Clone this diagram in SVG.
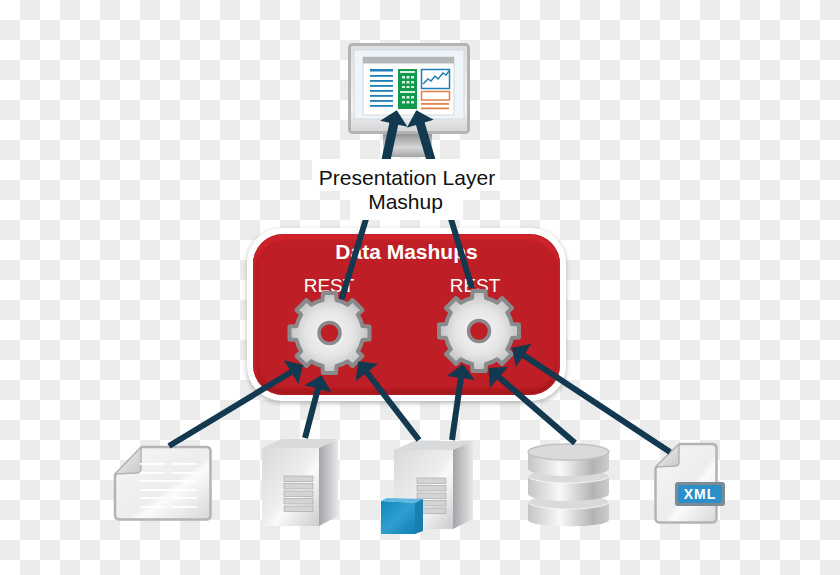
<svg xmlns="http://www.w3.org/2000/svg" xmlns:xlink="http://www.w3.org/1999/xlink" width="840" height="575" viewBox="0 0 840 575">
<style>
.conn{fill:none;stroke:#12394f;stroke-width:6;marker-end:url(#head)}
.plain{fill:none;stroke:#12394f;stroke-width:6}
.thick{stroke-width:9}
.sans{font-family:"Liberation Sans",Arial,sans-serif}
.wt{fill:#fff;text-anchor:middle}
.bk{fill:#111;text-anchor:middle;font-size:21px}
.docline{fill:#fff}
.vent{fill:#d3d4d6;stroke:#a0a1a3;stroke-width:.6}
.blue{fill:#1d7fb5}
.orange{fill:#e5804a}
.gearbody{fill:url(#gearFill);stroke:#8a8a8c;stroke-width:4;stroke-linejoin:round}
</style>
<defs>
<pattern id="checker" width="40" height="40" patternUnits="userSpaceOnUse">
<rect width="40" height="40" fill="#fff"/>
<rect x="20" y="0" width="20" height="20" fill="#ececec"/>
<rect x="0" y="20" width="20" height="20" fill="#ececec"/>
</pattern>
<marker id="head" markerUnits="userSpaceOnUse" markerWidth="16" markerHeight="30" refX="8" refY="14" orient="auto" overflow="visible">
<path d="M0 0L14 14L0 28Z" fill="#12394f"/>
</marker>
<filter id="soft" x="-10%" y="-10%" width="120%" height="120%"><feGaussianBlur stdDeviation="2.500"/></filter>
<filter id="soft2" x="-10%" y="-10%" width="120%" height="120%"><feGaussianBlur stdDeviation="2"/></filter>
<clipPath id="panelClip"><rect x="253" y="234" width="307" height="161" rx="30"/></clipPath>
<radialGradient id="gearFill" cx=".5" cy=".5" r=".55">
<stop offset="0" stop-color="#f8f8f8"/><stop offset=".55" stop-color="#e4e4e5"/><stop offset="1" stop-color="#b8b9bb"/>
</radialGradient>
<linearGradient id="sheet" x1="0" y1="0" x2="1" y2="1">
<stop offset="0" stop-color="#f6f6f7"/><stop offset=".55" stop-color="#eceded"/><stop offset=".62" stop-color="#fbfbfb"/><stop offset="1" stop-color="#d6d7d9"/>
</linearGradient>
<linearGradient id="fold" x1="0" y1="0" x2="1" y2="1">
<stop offset="0" stop-color="#f0f0f1"/><stop offset="1" stop-color="#c9cacc"/>
</linearGradient>
<linearGradient id="front" x1="0" y1="0" x2="1" y2="1">
<stop offset="0" stop-color="#d8d9db"/><stop offset=".5" stop-color="#eeeeef"/><stop offset=".6" stop-color="#fafafa"/><stop offset="1" stop-color="#cbccce"/>
</linearGradient>
<linearGradient id="side" x1="0" y1="0" x2="1" y2="0">
<stop offset="0" stop-color="#a3a4a7"/><stop offset="1" stop-color="#e6e7e8"/>
</linearGradient>
<linearGradient id="cyl" x1="0" y1="0" x2="1" y2="0">
<stop offset="0" stop-color="#c4c5c7"/><stop offset=".4" stop-color="#f8f8f8"/><stop offset=".8" stop-color="#b2b3b5"/><stop offset="1" stop-color="#cbccce"/>
</linearGradient>
<linearGradient id="cube" x1="0" y1="0" x2="1" y2="1">
<stop offset="0" stop-color="#0f86bd"/><stop offset=".5" stop-color="#2f9fd0"/><stop offset="1" stop-color="#0f7fb5"/>
</linearGradient>
<linearGradient id="stand" x1="0" y1="0" x2="0" y2="1">
<stop offset="0" stop-color="#8f9092"/><stop offset=".6" stop-color="#d5d6d7"/><stop offset="1" stop-color="#a3a4a6"/>
</linearGradient>
<linearGradient id="bezel" x1="0" y1="0" x2="0" y2="1">
<stop offset="0" stop-color="#dedfe0"/><stop offset=".75" stop-color="#f4f4f5"/><stop offset="1" stop-color="#d2d3d5"/>
</linearGradient>
<path id="gearShape" d="M33 -7L40 -6.500L40 6.500L33 7A34 34 0 0 1 28.300 18.300L33 23L23 33L18.300 28.300A34 34 0 0 1 7 33L6.500 40L-6.500 40L-7 33A34 34 0 0 1 -18.300 28.300L-23 33L-33 23L-28.300 18.300A34 34 0 0 1 -33 7L-40 6.500L-40 -6.500L-33 -7A34 34 0 0 1 -28.300 -18.300L-33 -23L-23 -33L-18.300 -28.300A34 34 0 0 1 -7 -33L-6.500 -40L6.500 -40L7 -33A34 34 0 0 1 18.300 -28.300L23 -33L33 -23L28.300 -18.300A34 34 0 0 1 33 -7Z"/>
<g id="vents">
<rect x="0" y="0" width="29" height="5.500" class="vent"/>
<rect x="0" y="7.500" width="29" height="5.500" class="vent"/>
<rect x="0" y="15" width="29" height="5.500" class="vent"/>
<rect x="0" y="22.500" width="29" height="5.500" class="vent"/>
<rect x="0" y="30" width="29" height="5.500" class="vent"/>
</g>
</defs>

<rect id="background" width="840" height="575" fill="url(#checker)"/>

<g id="monitor">
<rect x="383" y="133" width="49" height="24" fill="url(#stand)"/>
<rect x="349.500" y="44.500" width="119" height="88" rx="3" fill="url(#bezel)" stroke="#b3b4b6" stroke-width="3"/>
<rect x="354" y="50" width="110" height="69" fill="#edf4fa" stroke="#d6d7d9" stroke-width="1"/>
<rect x="363" y="57" width="91" height="58" fill="#fff" stroke="#d6d7d9" stroke-width="1"/>
<rect x="363" y="57" width="91" height="6.500" fill="#b5b6b8"/>
<rect class="blue" x="370" y="69" width="23" height="2.500"/>
<rect class="blue" x="370" y="75" width="23" height="1.800"/>
<rect class="blue" x="370" y="80" width="23" height="1.800"/>
<rect class="blue" x="370" y="85" width="23" height="1.800"/>
<rect class="blue" x="370" y="90" width="23" height="1.800"/>
<rect class="blue" x="370" y="95" width="23" height="1.800"/>
<rect class="blue" x="370" y="100" width="23" height="1.800"/>
<rect class="blue" x="370" y="105" width="23" height="1.800"/>
<rect x="398" y="69" width="19" height="40" fill="#119a4b"/>
<g fill="#d6efe0">
<rect x="400" y="71" width="15" height="2"/>
<rect x="400" y="91" width="15" height="2"/>
<rect x="402" y="76" width="3" height="2.500"/><rect x="406.500" y="76" width="3" height="2.500"/><rect x="411" y="76" width="3" height="2.500"/>
<rect x="402" y="81" width="3" height="2.500"/><rect x="406.500" y="81" width="3" height="2.500"/><rect x="411" y="81" width="3" height="2.500"/>
<rect x="402" y="86" width="3" height="2"/><rect x="406.500" y="86" width="3" height="2"/><rect x="411" y="86" width="3" height="2"/>
<rect x="402" y="96" width="3" height="2.500"/><rect x="406.500" y="96" width="3" height="2.500"/><rect x="411" y="96" width="3" height="2.500"/>
<rect x="402" y="101" width="3" height="2.500"/><rect x="406.500" y="101" width="3" height="2.500"/><rect x="411" y="101" width="3" height="2.500"/>
</g>
<rect x="421.500" y="69.500" width="28" height="19" fill="#fff" stroke="#1d7fb5" stroke-width="1.500"/>
<polyline points="423,84 428,79 431,81 435,76 438,79 443,73 446,75 449,71" fill="none" stroke="#1d7fb5" stroke-width="1.500"/>
<rect x="421.500" y="91.500" width="28" height="8.500" fill="#fff" stroke="#e5804a" stroke-width="1.500"/>
<rect class="orange" x="421" y="103" width="28" height="1.800"/>
<rect class="orange" x="421" y="107.500" width="28" height="1.800"/>
</g>

<g id="data-mashups">
<rect x="247" y="230" width="319" height="173" rx="34" fill="#999" opacity=".7" filter="url(#soft)"/>
<rect x="250" y="231" width="313" height="167" rx="32" fill="#fff" stroke="#fff" stroke-width="6"/>
<rect x="253" y="234" width="307" height="161" rx="30" fill="#be1e25"/>
<g clip-path="url(#panelClip)">
<rect x="253" y="230" width="307" height="163" rx="30" fill="none" stroke="#8f1217" stroke-width="4" filter="url(#soft2)"/>
<rect x="253" y="237" width="307" height="161" rx="30" fill="none" stroke="#d9282f" stroke-width="4" filter="url(#soft2)"/>
</g>
<text class="sans wt" x="406.500" y="259" font-size="21" font-weight="700">Data Mashups</text>
<text class="sans wt" x="329" y="292" font-size="19">REST</text>
<text class="sans wt" x="475" y="292" font-size="19">REST</text>
</g>

<g id="gear-left" transform="translate(329.500 333)">
<use xlink:href="#gearShape" href="#gearShape" class="gearbody"/>
<circle r="10.500" fill="#be1e25" stroke="#8a8a8c" stroke-width="3.500"/>
</g>
<g id="gear-right" transform="translate(479 331)">
<use xlink:href="#gearShape" href="#gearShape" class="gearbody"/>
<circle r="10.500" fill="#be1e25" stroke="#8a8a8c" stroke-width="3.500"/>
</g>

<g id="document">
<path d="M142 447H206Q210.500 447 210.500 451V515Q210.500 519.500 206 519.500H120Q115 519.500 115 515V475Z" fill="url(#sheet)" stroke="#b3b4b6" stroke-width="2.500" stroke-linejoin="round"/>
<path d="M115 474L141 447V468Q141 473 136 473Z" fill="url(#fold)" stroke="#b3b4b6" stroke-width="1.500" stroke-linejoin="round"/>
<g class="docline">
<rect x="140" y="463" width="25" height="1.800"/><rect x="172" y="463" width="25" height="1.800"/>
<rect x="140" y="472" width="25" height="1.800"/><rect x="172" y="472" width="25" height="1.800"/>
<rect x="140" y="480" width="57" height="1.800"/>
<rect x="140" y="489" width="57" height="1.800"/>
<rect x="140" y="497" width="25" height="1.800"/><rect x="172" y="497" width="25" height="1.800"/>
<rect x="140" y="506" width="25" height="1.800"/><rect x="172" y="506" width="25" height="1.800"/>
</g>
</g>

<g id="server-a">
<path d="M262 448L282 439H338L319 448Z" fill="#d9dadc"/>
<path d="M319 448L338 439V516L319 526Z" fill="url(#side)"/>
<rect x="262" y="448" width="57" height="78" fill="url(#front)"/>
<use xlink:href="#vents" href="#vents" x="284" y="476"/>
</g>

<g id="server-b">
<path d="M394 450L414 441H473L453 450Z" fill="#d9dadc"/>
<path d="M453 450L473 441V519L453 529Z" fill="url(#side)"/>
<rect x="394" y="450" width="59" height="79" fill="url(#front)"/>
<use xlink:href="#vents" href="#vents" x="417" y="478"/>
<path d="M387 498L423 499L415 503L381 501Z" fill="#5db7de"/>
<path d="M415 503L423 499V531L415 534Z" fill="#1a7fb0"/>
<path d="M381 501L415 503V534H381Z" fill="url(#cube)"/>
</g>

<g id="database">
<path d="M528 502V520A40.500 6.500 0 0 0 609 520V502Z" fill="url(#cyl)"/>
<ellipse cx="568.500" cy="502" rx="40.500" ry="7" fill="#d9dadc" stroke="#f4f4f4" stroke-width="1"/>
<path d="M528 476V494A40.500 7 0 0 0 609 494V476Z" fill="url(#cyl)"/>
<ellipse cx="568.500" cy="476" rx="40.500" ry="7" fill="#d9dadc" stroke="#f4f4f4" stroke-width="1"/>
<path d="M528 452V469A40.500 7 0 0 0 609 469V452Z" fill="url(#cyl)"/>
<ellipse cx="568.500" cy="452" rx="40.500" ry="8" fill="#d9dadc" stroke="#c0c1c3" stroke-width="1.500"/>
</g>

<g id="xml-file">
<path d="M680 444H712Q716.500 444 716.500 448V518Q716.500 522.500 712 522.500H660Q655.500 522.500 655.500 518V468Z" fill="url(#sheet)" stroke="#b3b4b6" stroke-width="2.500" stroke-linejoin="round"/>
<path d="M655.500 467L679 444V462Q679 466 675 466Z" fill="url(#fold)" stroke="#b3b4b6" stroke-width="1.500" stroke-linejoin="round"/>
<rect x="675" y="482" width="50" height="24" rx="3" fill="#7d8a92"/>
<rect x="678" y="485" width="44" height="18" rx="2" fill="#2b90c9"/>
<text class="sans wt" x="700" y="499" font-size="14" font-weight="700" letter-spacing="1">XML</text>
</g>

<g id="connectors">
<path class="conn thick" d="M386 160L395.500 116"/>
<path class="conn thick" d="M431 160L418 116"/>
<path class="plain" d="M341.500 299.500L366 219"/>
<path class="plain" d="M472 288L451 219"/>
<path class="conn" d="M169 446L298 368"/>
<path class="conn" d="M305 438L320 381"/>
<path class="conn" d="M419 440L362 366"/>
<path class="conn" d="M452 440L462 370"/>
<path class="conn" d="M575 443L493 372"/>
<path class="conn" d="M670 452L517 351"/>
</g>

<g id="label">
<rect x="312" y="159" width="188" height="32" fill="#fff"/>
<rect x="350" y="190" width="113" height="30" fill="#fff"/>
<text class="sans bk" x="407" y="185">Presentation Layer</text>
<text class="sans bk" x="405.500" y="209">Mashup</text>
</g>
</svg>
